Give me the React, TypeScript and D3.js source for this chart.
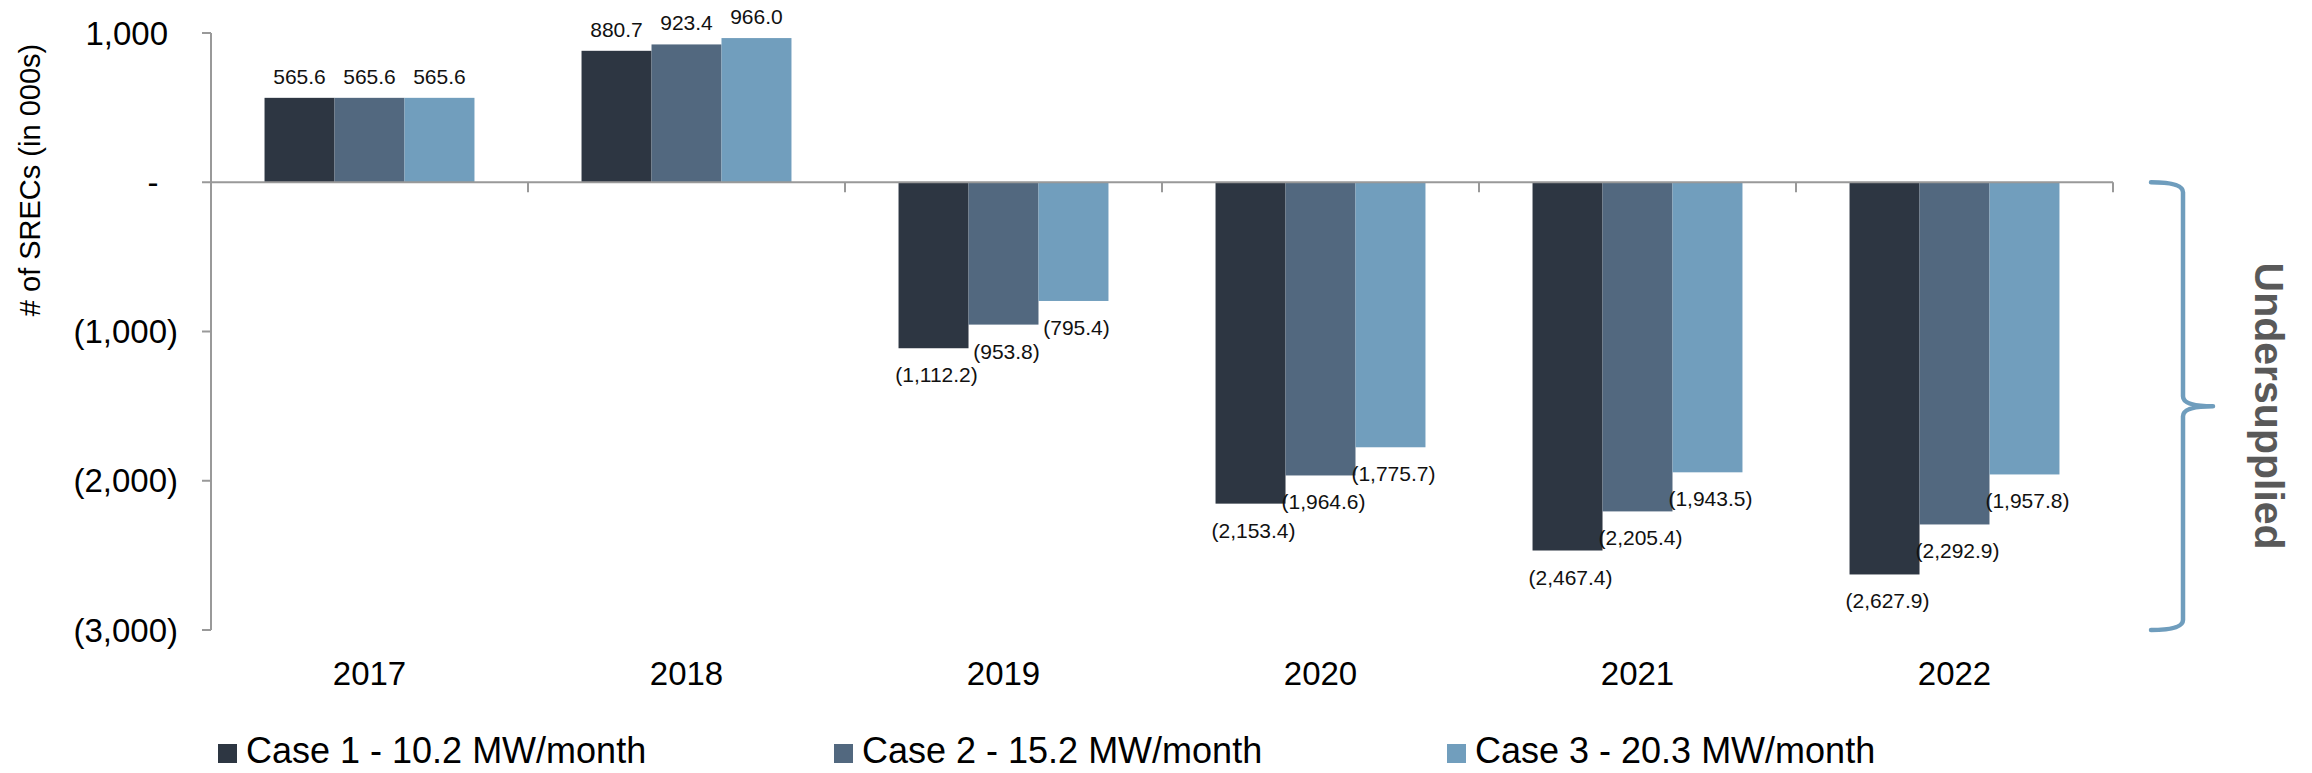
import React from "react";
import * as d3 from "d3";

const years = ["2017", "2018", "2019", "2020", "2021", "2022"];
const caseNames = ["Case 1 - 10.2 MW/month", "Case 2 - 15.2 MW/month", "Case 3 - 20.3 MW/month"];
const case1 = [565.6, 880.7, -1112.2, -2153.4, -2467.4, -2627.9];
const case2 = [565.6, 923.4, -953.8, -1964.6, -2205.4, -2292.9];
const case3 = [565.6, 966.0, -795.4, -1775.7, -1943.5, -1957.8];
const yTicks = [1000, 0, -1000, -2000, -3000];
const colors = ["#2d3642", "#52687f", "#719ebd"];
const bracketLabel = "Undersupplied";
const yTitle = "# of SRECs (in 000s)";

const W = 2312;
const H = 773;
const FONT = "'Liberation Sans', Arial, sans-serif";

export default function App() {
  const series = [case1, case2, case3];
  const y = d3.scaleLinear().domain([-3000, 1000]).range([630, 33]);
  const x0 = d3.scaleBand<string>().domain(years).range([211, 2113]).paddingInner(0).paddingOuter(0);
  const x1 = d3
    .scaleBand<string>()
    .domain(caseNames)
    .range([0, x0.bandwidth()])
    .paddingInner(0)
    .paddingOuter(0.765);
  const fmt = d3.format(",.1f");
  const tickFmt = d3.format(",");
  const valLabel = (v: number) => (v < 0 ? `(${fmt(-v)})` : fmt(v));
  const tickLabel = (v: number) => (v < 0 ? `(${tickFmt(-v)})` : v === 0 ? "-" : tickFmt(v));

  const axisX = x0.range()[0];
  const axisEnd = x0.range()[1];
  const y0 = y(0);
  const boundaries = years.map((yr) => (x0(yr) as number) + x0.bandwidth());

  // bracket
  const bTop = y(0);
  const bBot = y(-3000);
  const bMid = (bTop + bBot) / 2;
  const bx = 2183;
  const bl = 2151;
  const tip = 2213;
  const bracket = d3.path();
  bracket.moveTo(bl, bTop);
  bracket.quadraticCurveTo(bx, bTop, bx, bTop + 10);
  bracket.lineTo(bx, bMid - 10);
  bracket.quadraticCurveTo(bx, bMid, tip, bMid);
  bracket.moveTo(tip, bMid);
  bracket.quadraticCurveTo(bx, bMid, bx, bMid + 10);
  bracket.lineTo(bx, bBot - 10);
  bracket.quadraticCurveTo(bx, bBot, bl, bBot);

  const legendX = [218, 834, 1447];

  return (
    <svg
      width={W}
      height={H}
      style={{ position: "absolute", left: 0, top: 0, background: "#fff" }}
      fontFamily={FONT}
    >
      <rect width={W} height={H} fill="#fff" />
      {/* bars */}
      {years.map((yr, i) => (
        <g key={yr} transform={`translate(${x0(yr)},0)`}>
          {series.map((s, j) => {
            const v = s[i];
            const bx0 = x1(caseNames[j]) as number;
            return (
              <rect
                key={j}
                x={bx0}
                width={x1.bandwidth()}
                y={Math.min(y(v), y0)}
                height={Math.abs(y(v) - y0)}
                fill={colors[j]}
              />
            );
          })}
        </g>
      ))}
      {/* axes */}
      <g stroke="#999" strokeWidth={2} fill="none">
        <line x1={axisX} x2={axisX} y1={y(1000)} y2={y(-3000)} />
        {yTicks.map((t) => (
          <line key={t} x1={axisX - 9} x2={axisX} y1={y(t)} y2={y(t)} />
        ))}
        <line x1={axisX} x2={axisEnd} y1={y0} y2={y0} />
        {boundaries.map((b, i) => (
          <line key={i} x1={b} x2={b} y1={y0} y2={y0 + 10} />
        ))}
      </g>
      {/* y tick labels */}
      {yTicks.map((t) => (
        <text
          key={t}
          x={t === 0 ? 153 : 178}
          dx={t > 0 ? -10 : 0}
          y={y(t)}
          dy="0.35em"
          textAnchor={t === 0 ? "middle" : "end"}
          fontSize={33}
          fill="#000"
        >
          {tickLabel(t)}
        </text>
      ))}
      {/* y title */}
      <text
        transform={`translate(40,180) rotate(-90)`}
        textAnchor="middle"
        fontSize={29}
        fill="#000"
      >
        {yTitle}
      </text>
      {/* data labels */}
      {years.map((yr, i) =>
        series.map((s, j) => {
          const v = s[i];
          const cx = (x0(yr) as number) + (x1(caseNames[j]) as number) + x1.bandwidth() / 2;
          return (
            <text
              key={`${yr}-${j}`}
              x={v < 0 ? cx + 3 : cx}
              y={v < 0 ? y(v) + 34 : y(v) - 14}
              textAnchor="middle"
              fontSize={21}
              fill="#111"
            >
              {valLabel(v)}
            </text>
          );
        })
      )}
      {/* year labels */}
      {years.map((yr) => (
        <text
          key={yr}
          x={(x0(yr) as number) + x0.bandwidth() / 2}
          y={685}
          textAnchor="middle"
          fontSize={33}
          fill="#000"
        >
          {yr}
        </text>
      ))}
      {/* bracket */}
      <path d={bracket.toString()} fill="none" stroke="#6f9dbd" strokeWidth={4.5} strokeLinecap="round" />
      <text
        transform={`translate(2255,${bMid}) rotate(90)`}
        textAnchor="middle"
        fontSize={41}
        fontWeight="bold"
        fill="#595959"
      >
        {bracketLabel}
      </text>
      {/* legend */}
      {caseNames.map((c, j) => (
        <g key={c} transform={`translate(${legendX[j]},0)`}>
          <rect x={0} y={744} width={19} height={19} fill={colors[j]} />
          <text x={28} y={763} fontSize={36} fill="#000">
            {c}
          </text>
        </g>
      ))}
    </svg>
  );
}
